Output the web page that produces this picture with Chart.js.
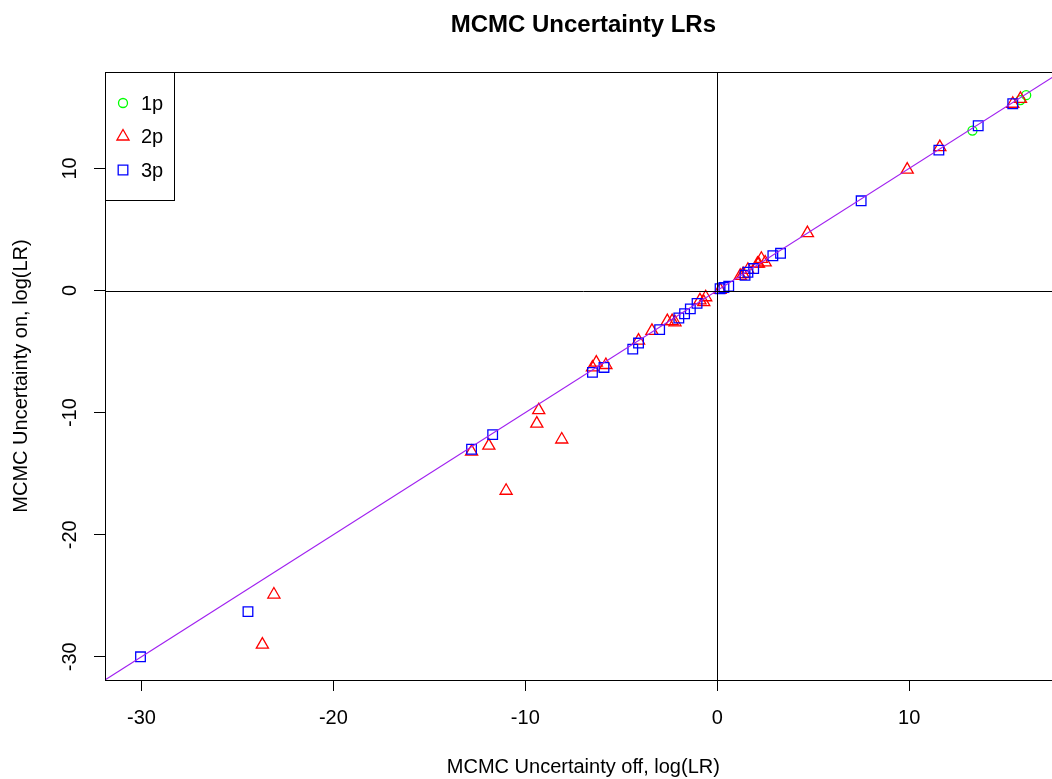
<!DOCTYPE html>
<html>
<head>
<meta charset="utf-8">
<script src="https://cdn.jsdelivr.net/npm/chart.js@4/dist/chart.umd.min.js"></script>
<style>
html, body { margin: 0; padding: 0; background: #fff; overflow: hidden; }
#wrap { width: 1070px; height: 779px; }
</style>
</head>
<body>
<div id="wrap"><canvas id="myChart" width="1070" height="779"></canvas></div>
<script>
// axis ticks
const xTicks = [-30, -20, -10, 0, 10];
const yTicks = [-30, -20, -10, 0, 10];

// 1p (green circles)
const p1x = [13.3, 15.8, 16.1];
const p1y = [13.1, 15.6, 16.0];

// 2p (red triangles)
const p2x = [-23.7, -23.1, -12.8, -11.9, -11.0, -9.4, -9.3, -8.1, -6.5, -6.3, -5.8, -4.1, -3.4, -2.6, -2.35, -2.2, -0.9, -0.7, -0.6, 0.15, 1.2, 1.35, 1.6, 2.1, 2.15, 2.3, 2.5, 4.7, 9.9, 11.6, 15.4, 15.8];
const p2y = [-29.0, -24.9, -13.2, -12.7, -16.4, -10.9, -9.8, -12.2, -6.3, -5.9, -6.1, -4.1, -3.3, -2.5, -2.5, -2.6, -0.8, -0.95, -0.55, 0.05, 1.2, 1.35, 1.7, 2.2, 2.2, 2.6, 2.3, 4.7, 9.9, 11.75, 15.3, 15.7];

// 3p (blue squares)
const p3x = [-30.05, -24.45, -12.8, -11.7, -6.5, -5.9, -4.4, -4.1, -3.0, -2.0, -1.7, -1.4, -1.05, 0.15, 0.35, 0.6, 1.45, 1.6, 1.9, 2.9, 3.3, 7.5, 11.55, 13.6, 15.4];
const p3y = [-30.0, -26.3, -13.0, -11.8, -6.7, -6.3, -4.8, -4.3, -3.2, -2.25, -1.9, -1.5, -1.05, 0.15, 0.25, 0.35, 1.25, 1.5, 1.8, 2.85, 3.05, 7.35, 11.5, 13.5, 15.3];

const FONT = "'Liberation Sans', Arial, sans-serif";

function pts(xs, ys) {
    return xs.map((v, i) => ({ x: v, y: ys[i] }));
}

const series = [
    { label: "1p", data: pts(p1x, p1y), pointStyle: "circle", color: "#00FF00", radius: 4.5, order: 3 },
    { label: "2p", data: pts(p2x, p2y), pointStyle: "triangle", color: "#FF0000", radius: 7, order: 2 },
    { label: "3p", data: pts(p3x, p3y), pointStyle: "rect", color: "#0000FF", radius: 6.8, order: 1 }
];

const extras = {
    id: "extras",
    afterDatasetsDraw(chart) {
        const ctx = chart.ctx;
        const a = chart.chartArea;
        const xs = chart.scales.x, ys = chart.scales.y;
        ctx.save();
        ctx.beginPath();
        ctx.rect(a.left, a.top, a.right - a.left, a.bottom - a.top);
        ctx.clip();
        // y = x
        ctx.strokeStyle = "#A020F0";
        ctx.lineWidth = 1.1;
        ctx.beginPath();
        ctx.moveTo(xs.getPixelForValue(xs.min), ys.getPixelForValue(xs.min));
        ctx.lineTo(xs.getPixelForValue(xs.max), ys.getPixelForValue(xs.max));
        ctx.stroke();
        // zero lines
        ctx.strokeStyle = "#000";
        ctx.lineWidth = 1;
        let y0 = Math.round(ys.getPixelForValue(0)) + 0.5;
        let x0 = Math.round(xs.getPixelForValue(0)) + 0.5;
        ctx.beginPath();
        ctx.moveTo(a.left, y0); ctx.lineTo(a.right, y0);
        ctx.moveTo(x0, a.top); ctx.lineTo(x0, a.bottom);
        ctx.stroke();
        ctx.restore();

        // box
        ctx.save();
        ctx.strokeStyle = "#000";
        ctx.lineWidth = 1;
        ctx.strokeRect(Math.round(a.left) + 0.5, Math.round(a.top) + 0.5, Math.round(a.right - a.left), Math.round(a.bottom - a.top));
        ctx.restore();
    },
    afterDraw(chart) {
        const ctx = chart.ctx;
        const a = chart.chartArea;
        const ys = chart.scales.y;
        const cx = (a.left + a.right) / 2;
        ctx.save();
        ctx.fillStyle = "#000";
        ctx.textAlign = "center";
        ctx.textBaseline = "middle";

        // title
        ctx.font = "bold 24px " + FONT;
        ctx.fillText("MCMC Uncertainty LRs", cx, 25);

        // x title
        ctx.font = "20px " + FONT;
        ctx.fillText("MCMC Uncertainty off, log(LR)", cx, 767);

        // y title
        ctx.save();
        ctx.translate(21, (a.top + a.bottom) / 2);
        ctx.rotate(-Math.PI / 2);
        ctx.fillText("MCMC Uncertainty on, log(LR)", 0, 0);
        ctx.restore();

        // y tick labels, rotated like R
        ctx.font = "20px " + FONT;
        yTicks.forEach(v => {
            ctx.save();
            ctx.translate(70, ys.getPixelForValue(v));
            ctx.rotate(-Math.PI / 2);
            ctx.fillText(String(v), 0, 0);
            ctx.restore();
        });

        // legend
        const lx = a.left, ly = a.top, lw = 69, lh = 128;
        ctx.strokeStyle = "#000";
        ctx.lineWidth = 1;
        ctx.strokeRect(Math.round(lx) + 0.5, Math.round(ly) + 0.5, lw, lh);
        ctx.textAlign = "left";
        ctx.font = "20px " + FONT;
        series.forEach((s, i) => {
            const yy = ly + 31 + i * 33.5;
            ctx.strokeStyle = s.color;
            ctx.fillStyle = "rgba(0,0,0,0)";
            ctx.lineWidth = 1.3;
            Chart.helpers.drawPoint(ctx, { pointStyle: s.pointStyle, radius: s.radius, rotation: 0, borderWidth: 1.3 }, lx + 18, yy);
            ctx.fillStyle = "#000";
            ctx.fillText(s.label, lx + 36, yy + 1);
        });
        ctx.restore();
    }
};

let config = {
    type: "scatter",
    data: {
        datasets: series.map(s => ({
            label: s.label,
            data: s.data,
            pointStyle: s.pointStyle,
            pointRadius: s.radius,
            pointHoverRadius: s.radius,
            borderColor: s.color,
            backgroundColor: "rgba(0,0,0,0)",
            pointBorderWidth: 1.3,
            order: s.order
        }))
    },
    options: {
        responsive: false,
        animation: false,
        devicePixelRatio: 1,
        layout: { padding: { top: 72, right: 8, left: 0, bottom: 0 } },
        plugins: {
            legend: { display: false },
            tooltip: { enabled: false },
            title: { display: false }
        },
        scales: {
            x: {
                type: "linear",
                min: -31.9,
                max: 17.95,
                afterBuildTicks: s => { s.ticks = xTicks.map(v => ({ value: v })); },
                afterFit: s => { s.height = 99; },
                grid: { drawOnChartArea: false, drawTicks: true, tickLength: 11, color: "#000", tickColor: "#000" },
                border: { display: true, color: "#000" },
                ticks: { color: "#000", font: { family: FONT, size: 20 }, padding: 15, maxRotation: 0 }
            },
            y: {
                type: "linear",
                min: -31.9,
                max: 17.9,
                afterBuildTicks: s => { s.ticks = yTicks.map(v => ({ value: v })); },
                afterFit: s => { s.width = 105; },
                grid: { drawOnChartArea: false, drawTicks: true, tickLength: 11, color: "#000", tickColor: "#000" },
                border: { display: true, color: "#000" },
                ticks: { display: false }
            }
        }
    },
    plugins: [extras]
};

let ctx = document.getElementById("myChart").getContext("2d");
let myChart = new Chart(ctx, config);
</script>
</body>
</html>
